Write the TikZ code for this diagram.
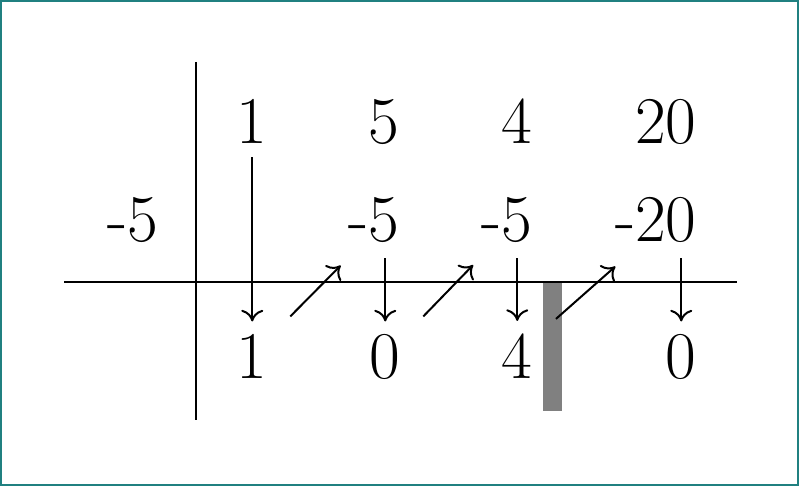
\documentclass[tikz,border=0pt]{standalone}
\usetikzlibrary{arrows.meta,calc}
\definecolor{frameteal}{RGB}{32,128,128}
\definecolor{bargray}{RGB}{128,128,128}
\begin{document}
\begin{tikzpicture}[x=0.5pt,y=-0.5pt,
  num/.style={inner sep=0pt, anchor=base east, font=\fontsize{33.4}{40}\selectfont},
  arr/.style={-{Computer Modern Rightarrow[length=5.8pt,width=11pt]}, line width=1pt},
  axis/.style={line width=1.15pt}]
\useasboundingbox (0,0) rectangle (799,486);
\draw[frameteal, line width=1pt] (1,1) rectangle (798,485);
% bar
\coordinate (bartl) at (543,282);
\coordinate (barbr) at (562,411);
\fill[bargray] (bartl) rectangle (barbr);
% axes
\coordinate (hl) at (64,282);
\coordinate (hr) at (737,282);
\coordinate (vt) at (196,62);
\coordinate (vb) at (196,420);
\draw[axis] (hl) -- (hr);
\draw[axis] (vt) -- (vb);
% numbers
\node[num] (t1) at (268,144) {1};
\node[num] (t2) at (400,144) {5};
\node[num] (t3) at (533,144) {4};
\node[num] (t4) at (697,144) {20};
\node[num] (m0) at (158.5,242) {-5};
\node[num] (m2) at (400,242) {-5};
\node[num] (m3) at (533,242) {-5};
\node[num] (m4) at (697,242) {-20};
\node[num] (b1) at (268,379) {1};
\node[num] (b2) at (401,379) {0};
\node[num] (b3) at (533,379) {4};
\node[num] (b4) at (697,379) {0};
% vertical arrows
\draw[arr] ($(t1.south)+(0,13)$) -- ($(b1.north)+(0,-13)$);
\draw[arr] ($(b2.north |- m2.south)+(0,15)$) -- ($(b2.north)+(0,-13)$);
\draw[arr] ($(b3.north |- m3.south)+(0,15)$) -- ($(b3.north)+(0,-13)$);
\draw[arr] ($(b4.north |- m4.south)+(0,15)$) -- ($(b4.north)+(0,-13)$);
% diagonal arrows
\draw[arr] ($(b1.north)+(38,-18)$) -- ($(m2.south)+(-33.5,22)$);
\draw[arr] ($(b2.north)+(38,-18)$) -- ($(m3.south)+(-34,21.5)$);
\draw[arr] ($(b3.north)+(38.7,-15)$) -- ($(m4.south)+(-40.5,23)$);
\end{tikzpicture}
\end{document}
